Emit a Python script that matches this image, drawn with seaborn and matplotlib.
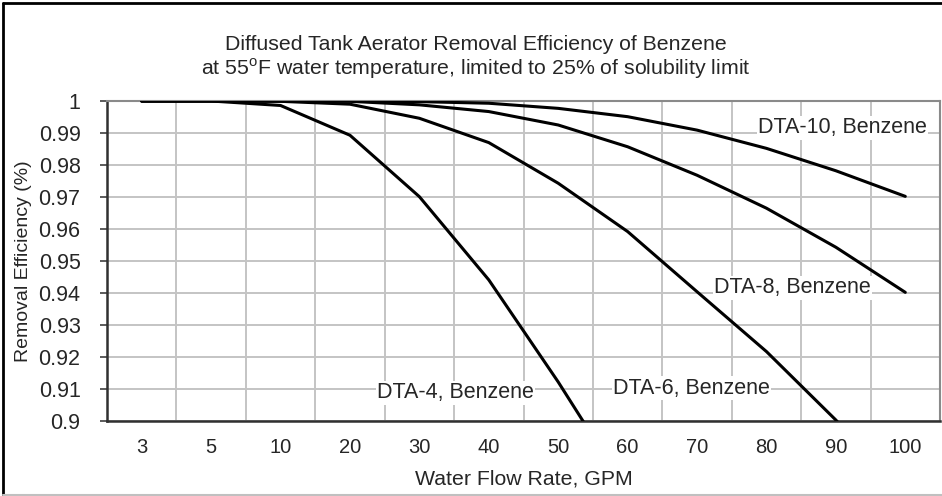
import numpy as np
import pandas as pd
import matplotlib
matplotlib.use("Agg")
import matplotlib.pyplot as plt
import seaborn as sns
from matplotlib.lines import Line2D

# ---- data ----
flow_labels = ["3", "5", "10", "20", "30", "40", "50", "60", "70", "80", "90", "100"]
dta4 = [1.0, 1.0, 0.9986, 0.9893, 0.9701, 0.9441, 0.9122, 0.878, np.nan, np.nan, np.nan, np.nan]
dta6 = [1.0, 1.0, 0.9999, 0.9990, 0.9946, 0.9870, 0.9743, 0.9592, 0.9404, 0.9217, 0.9003, 0.876]
dta8 = [1.0, 1.0, 1.0, 0.9999, 0.9988, 0.9967, 0.9925, 0.9857, 0.9768, 0.9665, 0.9543, 0.9402]
dta10 = [1.0, 1.0, 1.0, 1.0, 0.9998, 0.9993, 0.9977, 0.9951, 0.9909, 0.9852, 0.9782, 0.9702]
series_names = ["DTA-4, Benzene", "DTA-6, Benzene", "DTA-8, Benzene", "DTA-10, Benzene"]
y_ticks = [0.90, 0.91, 0.92, 0.93, 0.94, 0.95, 0.96, 0.97, 0.98, 0.99, 1.00]
y_tick_labels = ["0.9", "0.91", "0.92", "0.93", "0.94", "0.95", "0.96", "0.97", "0.98", "0.99", "1"]
title_line1 = "Diffused Tank Aerator Removal Efficiency of Benzene"
title_line2 = "at 55$^{\\mathregular{o}}$F water temperature, limited to 25% of solubility limit"
x_label = "Water Flow Rate, GPM"
y_label = "Removal Efficiency (%)"
# label anchors (category index, value) for the in-plot series labels
label_pos = {
    "DTA-4, Benzene": (3.39, 0.9088),
    "DTA-6, Benzene": (6.79, 0.9103),
    "DTA-8, Benzene": (8.25, 0.9416),
    "DTA-10, Benzene": (8.88, 0.9916),
}

rows = []
for name, vals in zip(series_names, [dta4, dta6, dta8, dta10]):
    for i, v in enumerate(vals):
        rows.append({"idx": i, "flow": flow_labels[i], "eff": v, "series": name})
df = pd.DataFrame(rows)

sns.set_theme(style="white")
plt.rcParams["font.family"] = ["Liberation Sans", "DejaVu Sans"]
plt.rcParams["mathtext.fontset"] = "custom"
plt.rcParams["mathtext.rm"] = "Liberation Sans"

fig = plt.figure(figsize=(9.42, 4.96), dpi=100)
ax = fig.add_axes([107 / 942, 1 - 421 / 496, (940 - 107) / 942, (421 - 101) / 496])

sns.lineplot(data=df, x="idx", y="eff", hue="series", palette=["black"] * 4,
             linewidth=2.2, legend=False, ax=ax, zorder=5, sort=False)

ax.set_xlim(-0.5, len(flow_labels) - 0.5)
ax.set_ylim(0.9, 1.0)

ax.set_xticks(range(len(flow_labels)))
ax.set_xticklabels(flow_labels, fontsize=14.5)
ax.set_xticks(np.arange(-0.5, len(flow_labels), 1), minor=True)
ax.tick_params(axis="x", which="major", length=0, pad=12)
ax.tick_params(axis="x", which="minor", length=5, width=1.2, color="#404040", direction="out")
ax.set_yticks(y_ticks)
ax.set_yticklabels(y_tick_labels, fontsize=15.5)
ax.tick_params(axis="y", which="major", length=5, width=1.2, color="#404040",
               direction="out", pad=14, left=True)

ax.grid(False)
ax.grid(True, axis="y", which="major", color="#c4c4c4", linewidth=1.4, zorder=0)
ax.grid(True, axis="x", which="minor", color="#c4c4c4", linewidth=1.4, zorder=0)
ax.set_axisbelow(True)

for side in ["left", "bottom"]:
    ax.spines[side].set_color("#303030")
    ax.spines[side].set_linewidth(1.8)
for side in ["top", "right"]:
    ax.spines[side].set_color("#8a8a8a")
    ax.spines[side].set_linewidth(1.5)

ax.set_xlabel(x_label, fontsize=15.3, labelpad=9)
ax.set_ylabel(y_label, fontsize=14, labelpad=5)

for name, (xi, yv) in label_pos.items():
    ax.text(xi, yv, name, fontsize=15.5, ha="left", va="center", zorder=3,
            bbox=dict(facecolor="white", edgecolor="none", pad=1))

fig.text(476 / 942, 1 - 44 / 496, title_line1, ha="center", va="center", fontsize=15.3)
fig.text(476 / 942, 1 - 69 / 496, title_line2, ha="center", va="center", fontsize=15.3)

# figure frame
fig.add_artist(Line2D([3 / 942, 3 / 942], [0, 1 - 3 / 496], transform=fig.transFigure, color="black", linewidth=2))
fig.add_artist(Line2D([3 / 942, 1], [1 - 3 / 496, 1 - 3 / 496], transform=fig.transFigure, color="black", linewidth=2))
fig.add_artist(Line2D([3 / 942, 1], [1 / 496, 1 / 496], transform=fig.transFigure, color="#c0c0c0", linewidth=1.5))

fig.savefig("out.png", dpi=100)
